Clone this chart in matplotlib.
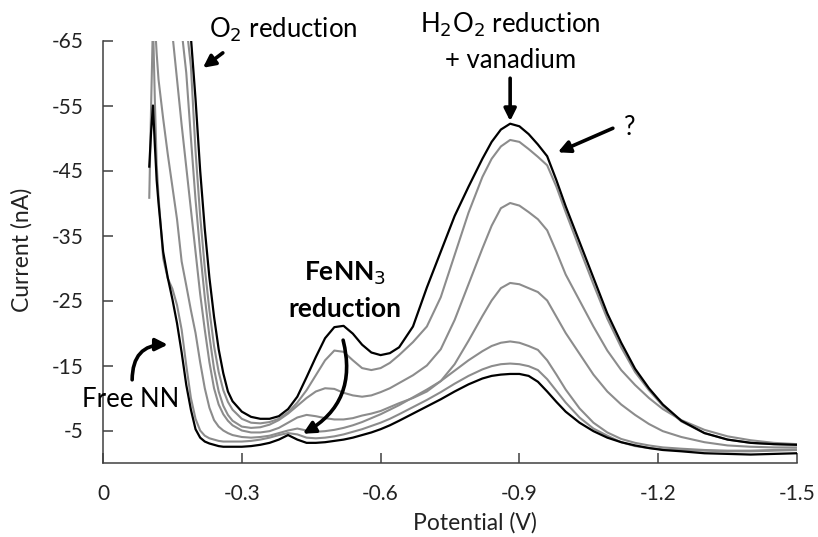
import numpy as np
import matplotlib
matplotlib.use("Agg")
import matplotlib.pyplot as plt

plt.rcParams['font.family'] = ['Lato', 'DejaVu Sans']
plt.rcParams['axes.unicode_minus'] = False

# potential grid (V)
potential = [-0.100, -0.104, -0.108, -0.112, -0.116, -0.120, -0.13, -0.14, -0.15, -0.16,
             -0.17, -0.18, -0.19, -0.20, -0.21, -0.22, -0.23, -0.24, -0.25, -0.26,
             -0.27, -0.28, -0.30, -0.32, -0.34, -0.36, -0.38, -0.40, -0.42, -0.44,
             -0.46, -0.48, -0.50, -0.52, -0.54, -0.56, -0.58, -0.60, -0.62, -0.64,
             -0.67, -0.70, -0.73, -0.76, -0.79, -0.82, -0.84, -0.86, -0.88, -0.90,
             -0.92, -0.94, -0.96, -0.98, -1.00, -1.03, -1.06, -1.09, -1.12, -1.15,
             -1.18, -1.21, -1.25, -1.30, -1.35, -1.40, -1.45, -1.50]

# currents (nA), lowest peak first
scan1 = [-45.6, -51, -55, -49, -43.5, -40, -32.5, -28.5, -25.2, -21.5,
         -17, -12, -8.2, -5.2, -3.9, -3.3, -3.0, -2.8, -2.6, -2.5,
         -2.5, -2.5, -2.5, -2.6, -2.8, -3.1, -3.6, -4.3, -3.6, -3.1,
         -3.1, -3.2, -3.4, -3.6, -3.9, -4.3, -4.7, -5.2, -5.8, -6.5,
         -7.6, -8.7, -9.8, -11.0, -12.1, -13.0, -13.4, -13.6, -13.7, -13.7,
         -13.4, -12.5, -11.0, -9.4, -7.9, -6.2, -4.9, -3.9, -3.2, -2.7,
         -2.3, -2.0, -1.8, -1.5, -1.4, -1.3, -1.4, -1.5]
scan2 = [-40.8, -55, -68, -56, -46, -41, -31.5, -28.4, -26.8, -24.3,
         -20.5, -15, -10, -6.8, -5.0, -4.2, -3.8, -3.6, -3.4, -3.3,
         -3.3, -3.3, -3.3, -3.4, -3.6, -3.9, -4.3, -4.6, -4.4, -3.9,
         -3.8, -3.9, -4.1, -4.4, -4.8, -5.2, -5.7, -6.2, -6.8, -7.5,
         -8.6, -9.7, -10.9, -12.2, -13.4, -14.4, -14.9, -15.2, -15.3, -15.2,
         -14.9, -14.3, -12.9, -11.1, -9.3, -7.0, -5.3, -4.2, -3.2, -2.6,
         -2.3, -2.1, -2.0, -1.9, -1.8, -1.8, -1.9, -2.0]
scan3 = [-85, -80, -74, -68, -63, -59, -53, -47.5, -42.5, -37.5,
         -31, -27.3, -23.5, -20, -15.5, -11.5, -8.5, -6.6, -5.6, -5.0,
         -4.6, -4.3, -4.0, -3.9, -4.0, -4.2, -4.6, -5.0, -5.3, -5.0,
         -4.8, -4.9, -5.1, -5.4, -5.8, -6.3, -6.9, -7.5, -8.2, -8.9,
         -10.1, -11.3, -12.6, -14.2, -15.8, -17.2, -18.0, -18.5, -18.7, -18.5,
         -18.0, -17.4, -15.8, -13.6, -11.3, -8.4, -6.2, -4.7, -3.7, -3.1,
         -2.7, -2.4, -2.2, -2.0, -1.9, -1.9, -2.0, -2.1]
scan4 = [-95, -93, -91, -88, -86, -84, -78, -72, -66, -59,
         -52, -45.5, -39, -32.5, -26, -20.5, -15.5, -11.5, -9.0, -7.5,
         -6.5, -5.8, -5.0, -4.7, -4.7, -4.9, -5.4, -6.2, -7.0, -7.4,
         -7.2, -6.9, -6.7, -6.7, -6.9, -7.3, -7.6, -8.0, -8.6, -9.2,
         -10.0, -11.0, -12.6, -15.2, -18.8, -22.6, -25.0, -26.9, -27.7, -27.5,
         -26.9, -26.3, -25.0, -22.5, -20.0, -16.8, -13.6, -11.0, -9.0, -7.4,
         -6.0, -4.9, -4.0, -3.2, -2.7, -2.5, -2.4, -2.4]
scan5 = [-100, -98, -96, -94, -92, -90, -86, -81, -76, -71,
         -66.5, -60, -50, -40.5, -32.5, -25.5, -19.5, -14.5, -11.0, -8.8,
         -7.4, -6.5, -5.6, -5.4, -5.5, -5.9, -6.6, -7.6, -8.8, -10.0,
         -11.0, -11.5, -11.4, -10.8, -10.4, -10.2, -10.4, -10.9, -11.5, -12.3,
         -13.5, -15.0, -17.5, -22.0, -27.5, -33.0, -36.5, -39.2, -40.0, -39.6,
         -38.6, -37.5, -35.8, -32.5, -29.0, -25.0, -21.0, -17.3, -14.3, -12.0,
         -10.0, -8.3, -6.6, -5.1, -4.1, -3.5, -3.1, -2.9]
scan6 = [-105, -103, -101, -99, -97, -95, -90, -85, -80, -75,
         -71, -67.5, -61, -48, -38, -30, -23.5, -18, -14, -11.2,
         -9.4, -8.2, -6.8, -6.2, -6.1, -6.3, -6.8, -7.8, -9.3, -11.2,
         -13.5, -15.8, -17.3, -17.1, -15.8, -14.6, -14.3, -14.6, -15.4, -16.6,
         -18.6, -21.0, -25.5, -32.0, -38.5, -44.0, -46.8, -48.7, -49.7, -49.4,
         -48.3, -47.1, -45.8, -42.5, -38.6, -33.0, -27.5, -22.2, -17.8, -14.0,
         -11.2, -8.8, -6.4, -4.6, -3.6, -3.1, -2.9, -2.8]
scan7 = [-95, -92, -89, -86, -84, -82, -78, -75, -72, -70,
         -68.5, -67, -65.5, -56, -45, -36, -28.5, -22.5, -17.5, -13.8,
         -11.0, -9.5, -7.9, -7.1, -6.8, -6.8, -7.2, -8.3, -10.2, -13.2,
         -16.3, -19.2, -20.9, -21.1, -19.9, -18.2, -17.0, -16.6, -16.9, -17.8,
         -21.0, -27.0, -32.5, -38.0, -42.5, -46.8, -49.4, -51.3, -52.2, -51.8,
         -50.6, -49.0, -47.2, -43.5, -39.5, -34.0, -28.5, -23.0, -18.5, -14.5,
         -11.5, -9.0, -6.5, -4.6, -3.6, -3.1, -2.9, -2.8]

xtick_vals = [0, -0.3, -0.6, -0.9, -1.2, -1.5]
xtick_labels = ['0', '-0.3', '-0.6', '-0.9', '-1.2', '-1.5']
ytick_vals = [-5, -15, -25, -35, -45, -55, -65]
ytick_labels = ['-5', '-15', '-25', '-35', '-45', '-55', '-65']

fig = plt.figure(figsize=(8.18, 5.37), dpi=100)
ax = fig.add_axes([103 / 818, 1 - 463 / 537, 694 / 818, 422.5 / 537])

for scan in [scan2, scan3, scan4, scan5, scan6]:
    ax.plot(potential, scan, color='#8c8c8c', lw=1.5, solid_joinstyle='round')
for scan in [scan1, scan7]:
    ax.plot(potential, scan, color='black', lw=1.6, solid_joinstyle='round')

ax.set_xlim(0, -1.5)
ax.set_ylim(0, -65)
ax.set_xticks(xtick_vals)
ax.set_xticklabels(xtick_labels)
ax.set_yticks(ytick_vals)
ax.set_yticklabels(ytick_labels)

for side in ['top', 'right']:
    ax.spines[side].set_visible(False)
for side in ['left', 'bottom']:
    ax.spines[side].set_color('#404040')
    ax.spines[side].set_linewidth(1.1)
ax.tick_params(axis='both', direction='in', length=7, width=1.1, color='#404040',
               labelsize=15, labelcolor='#222222')
ax.tick_params(axis='x', pad=15)
ax.tick_params(axis='y', pad=14)

ax.set_xlabel('Potential (V)', fontsize=16.5, color='#222222', va='center')
ax.set_ylabel('Current (nA)', fontsize=16.5, color='#222222', va='center', ha='center')
ax.xaxis.set_label_coords(0.536, -0.142)
ax.yaxis.set_label_coords(-0.117, 0.504)

arrow = dict(arrowstyle='-|>', lw=2.6, color='black', mutation_scale=18,
             shrinkA=0, shrinkB=0)
fs = 18.5

ax.text(-0.39, -65.5, 'O$_2$ reduction', fontsize=fs, ha='center', va='baseline')
ax.annotate('', xy=(-0.216, -60.8), xytext=(-0.259, -63.1), arrowprops=arrow,
            annotation_clip=False)

ax.text(-0.88, -66.3, 'H$_2$O$_2$ reduction', fontsize=fs, ha='center', va='baseline')
ax.text(-0.88, -60.7, '+ vanadium', fontsize=fs, ha='center', va='baseline')
ax.annotate('', xy=(-0.88, -52.6), xytext=(-0.88, -59.2), arrowprops=arrow)

ax.text(-1.139, -50.5, '?', fontsize=fs, ha='center', va='baseline')
ax.annotate('', xy=(-0.983, -47.8), xytext=(-1.102, -51.5), arrowprops=arrow)

ax.text(-0.523, -28.15, 'FeNN$_3$', fontsize=19, ha='center', va='baseline',
        fontweight='bold')
ax.text(-0.523, -22.5, 'reduction', fontsize=19, ha='center', va='baseline',
        fontweight='bold')
ax.annotate('', xy=(-0.432, -4.5), xytext=(-0.519, -18.9),
            arrowprops=dict(arrow, connectionstyle='arc3,rad=-0.38'))

ax.text(-0.0605, -8.66, 'Free NN', fontsize=fs, ha='center', va='baseline')
ax.annotate('', xy=(-0.140, -18.2), xytext=(-0.063, -12.8),
            arrowprops=dict(arrow, connectionstyle='arc3,rad=-0.5'),
            annotation_clip=False)

fig.savefig('out.png', dpi=100)
